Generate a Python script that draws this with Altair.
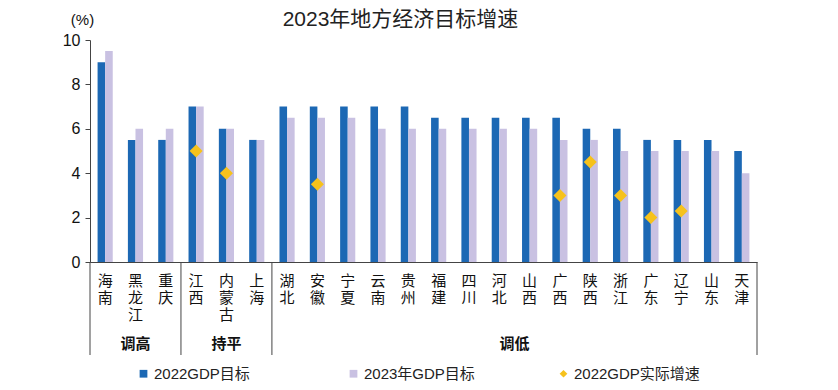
import altair as alt
import pandas as pd

provinces = ['海南', '黑龙江', '重庆', '江西', '内蒙古', '上海', '湖北', '安徽', '宁夏', '云南', '贵州',
             '福建', '四川', '河北', '山西', '广西', '陕西', '浙江', '广东', '辽宁', '山东', '天津']
target_2022 = [9, 5.5, 5.5, 7, 6, 5.5, 7, 7, 7, 7, 7, 6.5, 6.5, 6.5, 6.5, 6.5, 6, 6, 5.5, 5.5, 5.5, 5]
target_2023 = [9.5, 6, 6, 7, 6, 5.5, 6.5, 6.5, 6.5, 6, 6, 6, 6, 6, 6, 5.5, 5.5, 5, 5, 5, 5, 4]
actual_provinces = ['江西', '内蒙古', '安徽', '广西', '陕西', '浙江', '广东', '辽宁']
actual_2022 = [5.0, 4.0, 3.5, 3.0, 4.5, 3.0, 2.0, 2.3]

group_names = ['调高', '持平']
group_anchor = ['黑龙江', '内蒙古']
group_names_b = ['调低']
group_anchor_b = ['河北']
sep_start = ['海南', '江西', '湖北']
sep_end = ['天津']

S1, S2, S3 = '2022GDP目标', '2023年GDP目标', '2022GDP实际增速'
series_names = [S1, S2, S3]
colors = ['#1c68b4', '#c9c1e2', '#f6c21c']

bars_df = pd.concat([
    pd.DataFrame({'province': provinces, 'series': S1, 'value': target_2022}),
    pd.DataFrame({'province': provinces, 'series': S2, 'value': target_2023}),
])
pts_df = pd.DataFrame({'province': actual_provinces, 'series': S3, 'value': actual_2022})
grp_df = pd.DataFrame({'province': group_anchor, 'name': group_names})
grp_df_b = pd.DataFrame({'province': group_anchor_b, 'name': group_names_b})
sep_df = pd.DataFrame({'province': sep_start})
sep_df_b = pd.DataFrame({'province': sep_end})

W, H = 667, 222
FONT = 'Liberation Sans, Noto Sans CJK SC'

x_scale = alt.Scale(domain=provinces, paddingInner=0, paddingOuter=0)
y_scale = alt.Scale(domain=[0, 10], nice=False)
color_scale = alt.Scale(domain=series_names, range=colors)
shape_scale = alt.Scale(domain=series_names, range=['square', 'square', 'diamond'])

legend = alt.Legend(title=None, orient='none', legendX=46, legendY=326, direction='horizontal',
                    gridAlign='all', columnPadding=66, symbolSize=60, labelFontSize=15,
                    labelFont=FONT, labelColor='#222', labelOffset=3, padding=0,
                    symbolStrokeWidth=0)

x_axis = alt.Axis(title=None, labelAngle=0, labelExpr="split(datum.label, '')", ticks=False,
                  labelPadding=11, labelFontSize=15, labelLineHeight=17, labelFont=FONT,
                  labelColor='#111', domainColor='#444', labelBaseline='top', grid=False)
y_axis = alt.Axis(title='(%)', titleAngle=0, titleX=-8, titleY=-21, titleAlign='center',
                  titleBaseline='middle', titleFontSize=15, titleFontWeight='normal', titleFont=FONT,
                  titleColor='#111', values=[0, 2, 4, 6, 8, 10], grid=False, tickSize=5,
                  labelPadding=5, labelFontSize=16, labelFont=FONT, labelColor='#111',
                  domainColor='#444', tickColor='#444')

bars = alt.Chart(bars_df).mark_bar().encode(
    x=alt.X('province:N', scale=x_scale, sort=provinces, axis=x_axis),
    xOffset=alt.XOffset('series:N', scale=alt.Scale(domain=[S1, S2], paddingInner=0, paddingOuter=1)),
    y=alt.Y('value:Q', scale=y_scale, axis=y_axis),
    color=alt.Color('series:N', scale=color_scale, legend=legend),
)

points = alt.Chart(pts_df).mark_point(filled=True, size=170, opacity=1).encode(
    x=alt.X('province:N', scale=x_scale, sort=provinces),
    y=alt.Y('value:Q', scale=y_scale),
    color=alt.Color('series:N', scale=color_scale, legend=legend),
    shape=alt.Shape('series:N', scale=shape_scale, legend=legend),
)

sep1 = alt.Chart(sep_df).mark_rule(color='#444', strokeWidth=1).encode(
    x=alt.X('province:N', scale=x_scale, sort=provinces, bandPosition=0),
    y=alt.value(H), y2=alt.value(H + 93),
)
sep2 = alt.Chart(sep_df_b).mark_rule(color='#444', strokeWidth=1).encode(
    x=alt.X('province:N', scale=x_scale, sort=provinces, bandPosition=1),
    y=alt.value(H), y2=alt.value(H + 93),
)

txt1 = alt.Chart(grp_df).mark_text(fontSize=15, font=FONT, fontWeight='bold', color='#111',
                                   baseline='middle').encode(
    x=alt.X('province:N', scale=x_scale, sort=provinces, bandPosition=0.5),
    y=alt.value(304),
    text='name:N',
)
txt2 = alt.Chart(grp_df_b).mark_text(fontSize=15, font=FONT, fontWeight='bold', color='#111',
                                     baseline='middle').encode(
    x=alt.X('province:N', scale=x_scale, sort=provinces, bandPosition=1),
    y=alt.value(304),
    text='name:N',
)

chart = alt.layer(bars, points, sep1, sep2, txt1, txt2).properties(
    width=W, height=H,
    title=alt.TitleParams('2023年地方经济目标增速', fontSize=21, font=FONT, fontWeight='normal',
                          color='#222', anchor='middle', dx=-23, offset=-18),
    padding={'left': 82, 'top': 32, 'right': 73, 'bottom': 120},
    autosize=alt.AutoSizeParams(type='none'),
).configure_view(stroke='transparent')

chart.save('out.html', embed_options={'renderer': 'svg', 'actions': False})
